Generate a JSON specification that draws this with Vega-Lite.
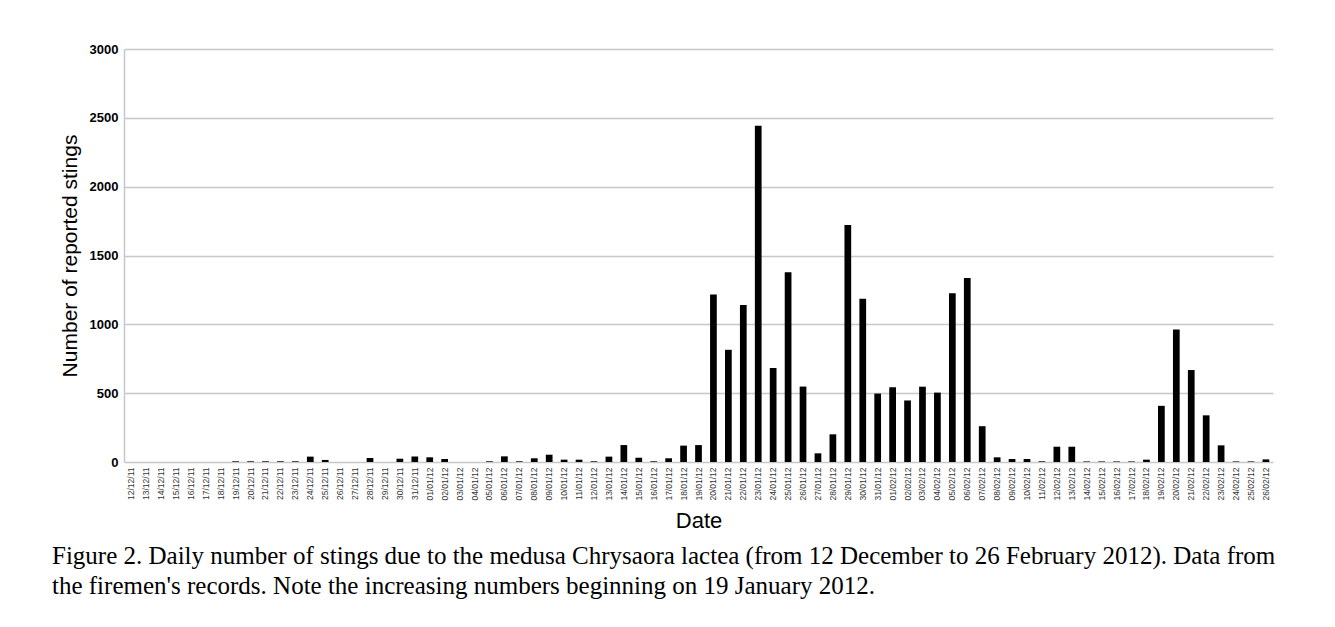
{
  "$schema": "https://vega.github.io/schema/vega-lite/v6.json",
  "width": 1149,
  "height": 413,
  "autosize": "none",
  "padding": {"left": 124, "top": 49, "right": 62, "bottom": 165},
  "background": "white",
  "config": {"view": {"stroke": null}, "font": "Liberation Sans"},
  "title": {
    "text": ["Figure 2. Daily number of stings due to the medusa Chrysaora lactea (from 12 December to 26 February 2012). Data from", "the firemen's records. Note the increasing numbers beginning on 19 January 2012."],
    "orient": "bottom",
    "anchor": "start",
    "frame": "group",
    "dx": -72,
    "offset": 13,
    "font": "Liberation Serif",
    "fontSize": 25,
    "fontWeight": "normal",
    "lineHeight": 30,
    "color": "black"
  },
  "data": {
    "values": [
      {"date": "12/12/11", "stings": 0}, {"date": "13/12/11", "stings": 0}, {"date": "14/12/11", "stings": 0},
      {"date": "15/12/11", "stings": 0}, {"date": "16/12/11", "stings": 0}, {"date": "17/12/11", "stings": 0},
      {"date": "18/12/11", "stings": 0}, {"date": "19/12/11", "stings": 5}, {"date": "20/12/11", "stings": 5},
      {"date": "21/12/11", "stings": 5}, {"date": "22/12/11", "stings": 5}, {"date": "23/12/11", "stings": 5},
      {"date": "24/12/11", "stings": 39}, {"date": "25/12/11", "stings": 15}, {"date": "26/12/11", "stings": 0},
      {"date": "27/12/11", "stings": 0}, {"date": "28/12/11", "stings": 29}, {"date": "29/12/11", "stings": 0},
      {"date": "30/12/11", "stings": 24}, {"date": "31/12/11", "stings": 40},
      {"date": "01/01/12", "stings": 34}, {"date": "02/01/12", "stings": 22}, {"date": "03/01/12", "stings": 0},
      {"date": "04/01/12", "stings": 0}, {"date": "05/01/12", "stings": 5}, {"date": "06/01/12", "stings": 41},
      {"date": "07/01/12", "stings": 5}, {"date": "08/01/12", "stings": 27}, {"date": "09/01/12", "stings": 53},
      {"date": "10/01/12", "stings": 17}, {"date": "11/01/12", "stings": 17}, {"date": "12/01/12", "stings": 5},
      {"date": "13/01/12", "stings": 39}, {"date": "14/01/12", "stings": 123}, {"date": "15/01/12", "stings": 31},
      {"date": "16/01/12", "stings": 5}, {"date": "17/01/12", "stings": 27}, {"date": "18/01/12", "stings": 119},
      {"date": "19/01/12", "stings": 123}, {"date": "20/01/12", "stings": 1216}, {"date": "21/01/12", "stings": 815},
      {"date": "22/01/12", "stings": 1140}, {"date": "23/01/12", "stings": 2443}, {"date": "24/01/12", "stings": 683},
      {"date": "25/01/12", "stings": 1378}, {"date": "26/01/12", "stings": 548}, {"date": "27/01/12", "stings": 63},
      {"date": "28/01/12", "stings": 201}, {"date": "29/01/12", "stings": 1721}, {"date": "30/01/12", "stings": 1185},
      {"date": "31/01/12", "stings": 497},
      {"date": "01/02/12", "stings": 543}, {"date": "02/02/12", "stings": 447}, {"date": "03/02/12", "stings": 547},
      {"date": "04/02/12", "stings": 504}, {"date": "05/02/12", "stings": 1226}, {"date": "06/02/12", "stings": 1337},
      {"date": "07/02/12", "stings": 260}, {"date": "08/02/12", "stings": 34}, {"date": "09/02/12", "stings": 22},
      {"date": "10/02/12", "stings": 22}, {"date": "11/02/12", "stings": 5}, {"date": "12/02/12", "stings": 111},
      {"date": "13/02/12", "stings": 111}, {"date": "14/02/12", "stings": 4}, {"date": "15/02/12", "stings": 4},
      {"date": "16/02/12", "stings": 4}, {"date": "17/02/12", "stings": 4}, {"date": "18/02/12", "stings": 17},
      {"date": "19/02/12", "stings": 408}, {"date": "20/02/12", "stings": 963}, {"date": "21/02/12", "stings": 668},
      {"date": "22/02/12", "stings": 339}, {"date": "23/02/12", "stings": 121}, {"date": "24/02/12", "stings": 4},
      {"date": "25/02/12", "stings": 4}, {"date": "26/02/12", "stings": 19}
    ]
  },
  "mark": {"type": "bar", "color": "black"},
  "encoding": {
    "x": {
      "field": "date",
      "type": "ordinal",
      "sort": null,
      "scale": {"paddingInner": 0.55, "paddingOuter": 0.25},
      "axis": {
        "title": "Date",
        "titleFontSize": 22,
        "titleFontWeight": "normal",
        "titleColor": "black",
        "titlePadding": 10,
        "labelAngle": -90,
        "labelFontSize": 8.5,
        "labelColor": "#333333",
        "labelPadding": 5,
        "domain": false,
        "ticks": false
      }
    },
    "y": {
      "field": "stings",
      "type": "quantitative",
      "scale": {"domain": [0, 3000], "nice": false},
      "axis": {
        "title": "Number of reported stings",
        "titleFontSize": 21,
        "titleFontWeight": "normal",
        "titleColor": "black",
        "titlePadding": 9,
        "values": [0, 500, 1000, 1500, 2000, 2500, 3000],
        "format": "d",
        "labelFontSize": 13,
        "labelFontWeight": "bold",
        "labelColor": "black",
        "labelPadding": 6,
        "ticks": false,
        "domainColor": "#c8c8c8",
        "domainWidth": 1.5,
        "gridColor": "#c8c8c8",
        "gridWidth": 1.5
      }
    }
  }
}
